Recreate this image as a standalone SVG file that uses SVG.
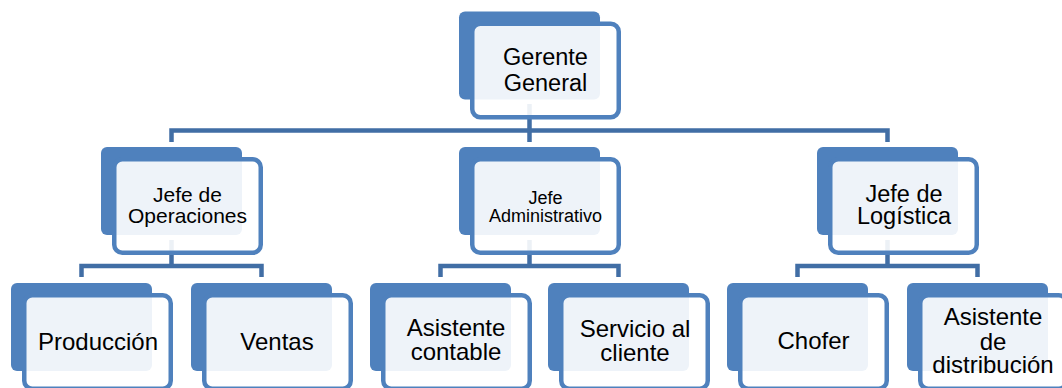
<svg xmlns="http://www.w3.org/2000/svg" width="1062" height="388" viewBox="0 0 1062 388">
  <style>
    .back { fill: #4F81BD; }
    .front { fill: #FFFFFF; fill-opacity: 0.9; stroke: #4F81BD; stroke-width: 4.5; }
    .conn { fill: none; stroke: #416EA5; stroke-width: 4.5; stroke-linejoin: miter; stroke-linecap: butt; }
    text { font-family: "Liberation Sans", Arial, sans-serif; fill: #000; text-anchor: middle; }
  </style>
  <defs>
    <!-- a node: dark back card plus a lighter framed card offset down-right -->
    <g id="card">
      <rect class="back" x="0" y="0" width="141" height="88" rx="6"/>
      <rect class="front" x="13.25" y="12.25" width="146.5" height="93.5" rx="8"/>
    </g>
  </defs>
  <rect width="1062" height="388" fill="#FFFFFF"/>

  <!-- connectors -->
  <g id="connectors">
    <path class="conn" d="M529.5,104 V142 M171.5,142 V130.5 H887.5 V142"/>
    <path class="conn" d="M171.5,240 V266 M81.5,277 V266 H261.5 V277"/>
    <path class="conn" d="M529.5,240 V266 M440.5,277 V266 H618.5 V277"/>
    <path class="conn" d="M887.5,240 V266 M797.5,277 V266 H977.5 V277"/>
  </g>

  <!-- top level -->
  <g id="gerente-general">
    <use href="#card" x="459" y="11.5"/>
    <text x="545.5" y="65" font-size="23.5">Gerente</text>
    <text x="545.5" y="90.5" font-size="23.5">General</text>
  </g>

  <!-- second level -->
  <g id="jefe-operaciones">
    <use href="#card" x="101" y="147"/>
    <text x="187.5" y="202" font-size="21">Jefe de</text>
    <text x="187.5" y="222.7" font-size="21">Operaciones</text>
  </g>
  <g id="jefe-administrativo">
    <use href="#card" x="459" y="147"/>
    <text x="545.5" y="204" font-size="18">Jefe</text>
    <text x="545.5" y="221.7" font-size="18">Administrativo</text>
  </g>
  <g id="jefe-logistica">
    <use href="#card" x="817" y="147"/>
    <text x="904" y="201.7" font-size="23.5">Jefe de</text>
    <text x="904" y="224" font-size="23.5">Logística</text>
  </g>

  <!-- third level -->
  <g id="produccion">
    <use href="#card" x="11" y="283"/>
    <text x="98" y="350" font-size="24">Producción</text>
  </g>
  <g id="ventas">
    <use href="#card" x="191" y="283"/>
    <text x="277" y="349.5" font-size="24">Ventas</text>
  </g>
  <g id="asistente-contable">
    <use href="#card" x="370" y="283"/>
    <text x="456" y="336" font-size="24">Asistente</text>
    <text x="456" y="360" font-size="24">contable</text>
  </g>
  <g id="servicio-cliente">
    <use href="#card" x="548" y="283"/>
    <text x="635" y="336.7" font-size="24">Servicio al</text>
    <text x="635" y="361" font-size="24">cliente</text>
  </g>
  <g id="chofer">
    <use href="#card" x="727" y="283"/>
    <text x="813.5" y="349" font-size="24">Chofer</text>
  </g>
  <g id="asistente-distribucion">
    <use href="#card" x="907" y="283"/>
    <text x="993" y="325" font-size="24">Asistente</text>
    <text x="993" y="349.5" font-size="24">de</text>
    <text x="993" y="373" font-size="24">distribución</text>
  </g>
</svg>
